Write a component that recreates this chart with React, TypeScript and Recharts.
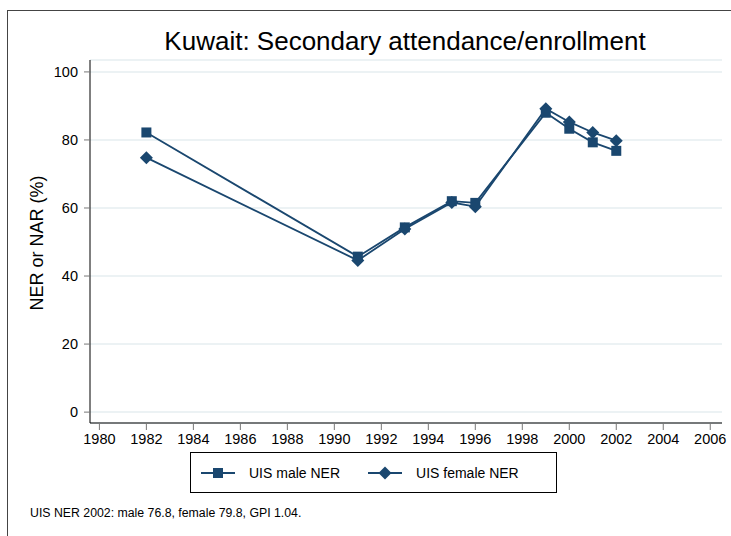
import { LineChart, Line, XAxis, YAxis, CartesianGrid } from "recharts";

const YEARS = [1982, 1991, 1993, 1995, 1996, 1999, 2000, 2001, 2002];
const MALE = [82.2, 45.7, 54.3, 62.0, 61.5, 88.0, 83.3, 79.3, 76.8];
const FEMALE = [74.8, 44.6, 53.8, 61.6, 60.4, 89.2, 85.3, 82.2, 79.8];
const X_TICKS = [1980, 1982, 1984, 1986, 1988, 1990, 1992, 1994, 1996, 1998, 2000, 2002, 2004, 2006];
const Y_TICKS = [0, 20, 40, 60, 80, 100];

const NAVY = "#1a476f";
const FONT = "'Liberation Sans', Arial, sans-serif";

const data = YEARS.map((y, i) => ({ year: y, male: MALE[i], female: FEMALE[i] }));

function Square(props: any) {
  const { cx, cy } = props;
  if (cx == null || cy == null) return null;
  return <rect x={cx - 5} y={cy - 5} width={10} height={10} fill={NAVY} />;
}

function Diamond(props: any) {
  const { cx, cy } = props;
  if (cx == null || cy == null) return null;
  const r = 6.5;
  return <path d={`M${cx},${cy - r}L${cx + r},${cy}L${cx},${cy + r}L${cx - r},${cy}Z`} fill={NAVY} />;
}

function LegendBox() {
  const item = (label: string, shape: "sq" | "dia") => (
    <div style={{ display: "flex", alignItems: "center", marginRight: 28 }}>
      <svg width={34} height={16} style={{ marginRight: 14 }}>
        <line x1={0} y1={8} x2={34} y2={8} stroke={NAVY} strokeWidth={1.8} />
        {shape === "sq" ? (
          <rect x={12} y={3} width={10} height={10} fill={NAVY} />
        ) : (
          <path d="M17,1.5L23.5,8L17,14.5L10.5,8Z" fill={NAVY} />
        )}
      </svg>
      <span>{label}</span>
    </div>
  );
  return (
    <div
      style={{
        position: "absolute",
        left: 190,
        top: 452,
        width: 367,
        height: 41,
        boxSizing: "border-box",
        border: "1px solid #000",
        display: "flex",
        alignItems: "center",
        paddingLeft: 10,
        fontFamily: FONT,
        fontSize: 14,
        color: "#000",
      }}
    >
      {item("UIS male NER", "sq")}
      {item("UIS female NER", "dia")}
    </div>
  );
}

export default function App() {
  return (
    <div
      style={{
        position: "absolute",
        left: 0,
        top: 0,
        width: 731,
        height: 536,
        overflow: "hidden",
        background: "#fff",
        fontFamily: FONT,
      }}
    >
      <div
        style={{
          position: "absolute",
          left: 7,
          top: 10,
          width: 800,
          height: 600,
          border: "1px solid #444",
        }}
      />
      <div
        style={{
          position: "absolute",
          left: 0,
          width: 810,
          top: 26,
          textAlign: "center",
          fontSize: 26,
          color: "#000",
        }}
      >
        Kuwait: Secondary attendance/enrollment
      </div>
      <div
        style={{
          position: "absolute",
          left: 37,
          top: 243,
          transform: "translate(-50%, -50%) rotate(-90deg)",
          whiteSpace: "nowrap",
          fontSize: 18,
          color: "#000",
        }}
      >
        NER or NAR (%)
      </div>
      <div
        style={{
          position: "absolute",
          left: 30,
          top: 506,
          fontSize: 12.3,
          color: "#000",
        }}
      >
        UIS NER 2002: male 76.8, female 79.8, GPI 1.04.
      </div>
      <LegendBox />
      <div style={{ position: "absolute", left: 0, top: 0 }}>
        <LineChart
          width={731}
          height={536}
          data={data}
          margin={{ top: 60, right: 9, bottom: 83, left: 30 }}
        >
          <CartesianGrid vertical={false} stroke="#e6eef0" strokeWidth={1.5} />
          <XAxis
            dataKey="year"
            type="number"
            domain={[1979.6, 2006.5]}
            ticks={X_TICKS}
            allowDataOverflow
            interval={0}
            height={30}
            tickSize={7}
            tickMargin={4}
            axisLine={{ stroke: "#000" }}
            tickLine={{ stroke: "#777" }}
            tick={{ fontSize: 14.5, fill: "#000", fontFamily: FONT }}
          />
          <YAxis
            type="number"
            domain={[-3.2, 103.5]}
            ticks={Y_TICKS}
            allowDataOverflow
            width={60}
            tickSize={6}
            tickMargin={6}
            axisLine={{ stroke: "#000" }}
            tickLine={{ stroke: "#777" }}
            tick={{ fontSize: 14.5, fill: "#000", fontFamily: FONT }}
          />
          <Line
            dataKey="male"
            name="UIS male NER"
            stroke={NAVY}
            strokeWidth={1.8}
            dot={<Square />}
            activeDot={false}
            isAnimationActive={false}
          />
          <Line
            dataKey="female"
            name="UIS female NER"
            stroke={NAVY}
            strokeWidth={1.8}
            dot={<Diamond />}
            activeDot={false}
            isAnimationActive={false}
          />
        </LineChart>
      </div>
    </div>
  );
}
